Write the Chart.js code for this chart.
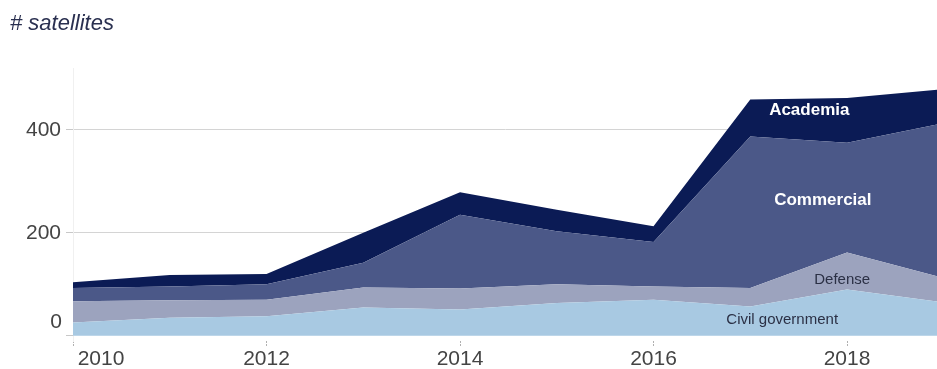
<!DOCTYPE html>
<html>
<head>
<meta charset="utf-8">
<script src="https://cdn.jsdelivr.net/npm/chart.js@4/dist/chart.umd.min.js"></script>
<style>
  html, body { margin: 0; padding: 0; background: #ffffff; }
  #wrap { width: 937px; height: 369px; }
</style>
</head>
<body>
<div id="wrap"><canvas id="c" width="937" height="369"></canvas></div>
<script>
// ---- data ----
const years = [2010, 2011, 2012, 2013, 2014, 2015, 2016, 2017, 2018, 2019];
const civilGovernment = [26, 35, 38, 55, 51, 64, 70, 57, 90, 65];
const defense        = [41, 34, 32, 39, 41, 36, 26, 36, 72, 47];
const commercial     = [26, 27, 30, 48, 143, 103, 86, 294, 213, 301];
const academia       = [11, 22, 20, 58, 44, 42, 31, 72, 87, 66];
const yTickValues = [0, 200, 400];
const xTickValues = [2010, 2012, 2014, 2016, 2018];
const titleText = '# satellites';

const FONT = 'Arial, "Liberation Sans", sans-serif';

function pts(arr) { return years.map((y, i) => ({ x: y, y: arr[i] })); }

const seriesDefs = [
  { label: 'Civil government', data: civilGovernment, color: '#a8c9e2', fill: 'origin' },
  { label: 'Defense',          data: defense,         color: '#9ca3be', fill: '-1' },
  { label: 'Commercial',       data: commercial,      color: '#4b5888', fill: '-1' },
  { label: 'Academia',         data: academia,        color: '#0b1b55', fill: '-1' }
];

// in-chart label anchors (data coordinates)
const areaLabels = [
  { text: 'Academia',         x: 2017.61, y: 437, color: '#ffffff', weight: 'bold', size: 17 },
  { text: 'Commercial',       x: 2017.75, y: 264, color: '#ffffff', weight: 'bold', size: 17 },
  { text: 'Defense',          x: 2017.95, y: 109, color: '#2b3045', weight: 'normal', size: 15 },
  { text: 'Civil government', x: 2017.33, y: 31,  color: '#2b3045', weight: 'normal', size: 15 }
];

const overlay = {
  id: 'overlay',
  afterDraw(chart) {
    const ctx = chart.ctx;
    const xs = chart.scales.x, ys = chart.scales.y;
    ctx.save();
    // title
    ctx.fillStyle = '#2a3050';
    ctx.font = 'italic 22px ' + FONT;
    ctx.textAlign = 'left';
    ctx.textBaseline = 'alphabetic';
    ctx.fillText(titleText, 10, 30);
    // area labels
    ctx.textAlign = 'center';
    ctx.textBaseline = 'middle';
    areaLabels.forEach(l => {
      ctx.fillStyle = l.color;
      ctx.font = l.weight + ' ' + l.size + 'px ' + FONT;
      ctx.fillText(l.text, xs.getPixelForValue(l.x), ys.getPixelForValue(l.y));
    });
    // "0" y label (sits above its gridline in the original)
    ctx.fillStyle = '#444444';
    ctx.font = '21px ' + FONT;
    ctx.textAlign = 'right';
    ctx.fillText('0', xs.left - 11, ys.getPixelForValue(0) - 14);
    // first x label shifted right
    ctx.textAlign = 'center';
    ctx.textBaseline = 'middle';
    ctx.fillText(String(xTickValues[0]), xs.getPixelForValue(xTickValues[0]) + 28, xs.top + 18);
    ctx.restore();
  }
};

new Chart(document.getElementById('c'), {
  type: 'line',
  data: {
    datasets: seriesDefs.map(s => ({
      label: s.label,
      data: pts(s.data),
      backgroundColor: s.color,
      borderColor: s.color,
      borderWidth: 0,
      pointRadius: 0,
      fill: s.fill,
      tension: 0
    }))
  },
  options: {
    responsive: false,
    animation: false,
    devicePixelRatio: 1,
    layout: { padding: { top: 68, right: 0, bottom: 0, left: 0 } },
    plugins: { legend: { display: false }, tooltip: { enabled: false }, title: { display: false } },
    scales: {
      x: {
        type: 'linear',
        min: 2010,
        max: 2018.93,
        afterBuildTicks: s => { s.ticks = xTickValues.map(v => ({ value: v })); },
        afterFit: s => { s.height = 28; },
        border: { display: false },
        grid: { drawOnChartArea: false, drawTicks: true, tickLength: 6, color: '#b0b0b0', tickBorderDash: [2, 1] },
        ticks: {
          padding: 0,
          autoSkip: false,
          maxRotation: 0,
          color: '#444444',
          font: { family: FONT, size: 21 },
          callback: v => (v === xTickValues[0] ? '' : String(v))
        }
      },
      y: {
        stacked: true,
        min: -10,
        max: 520,
        afterBuildTicks: s => { s.ticks = yTickValues.map(v => ({ value: v })); },
        afterFit: s => { s.width = 73; },
        border: { display: true, color: '#f0f0f0' },
        grid: { color: c => (c.tick && c.tick.value === 0 ? 'rgba(0,0,0,0)' : '#d4d4d4'), tickColor: '#c8c8c8', tickLength: 7, drawTicks: true },
        ticks: {
          padding: 5,
          color: '#444444',
          font: { family: FONT, size: 21 },
          callback: v => (v === 0 ? '' : String(v))
        }
      }
    }
  },
  plugins: [overlay]
});
</script>
</body>
</html>
